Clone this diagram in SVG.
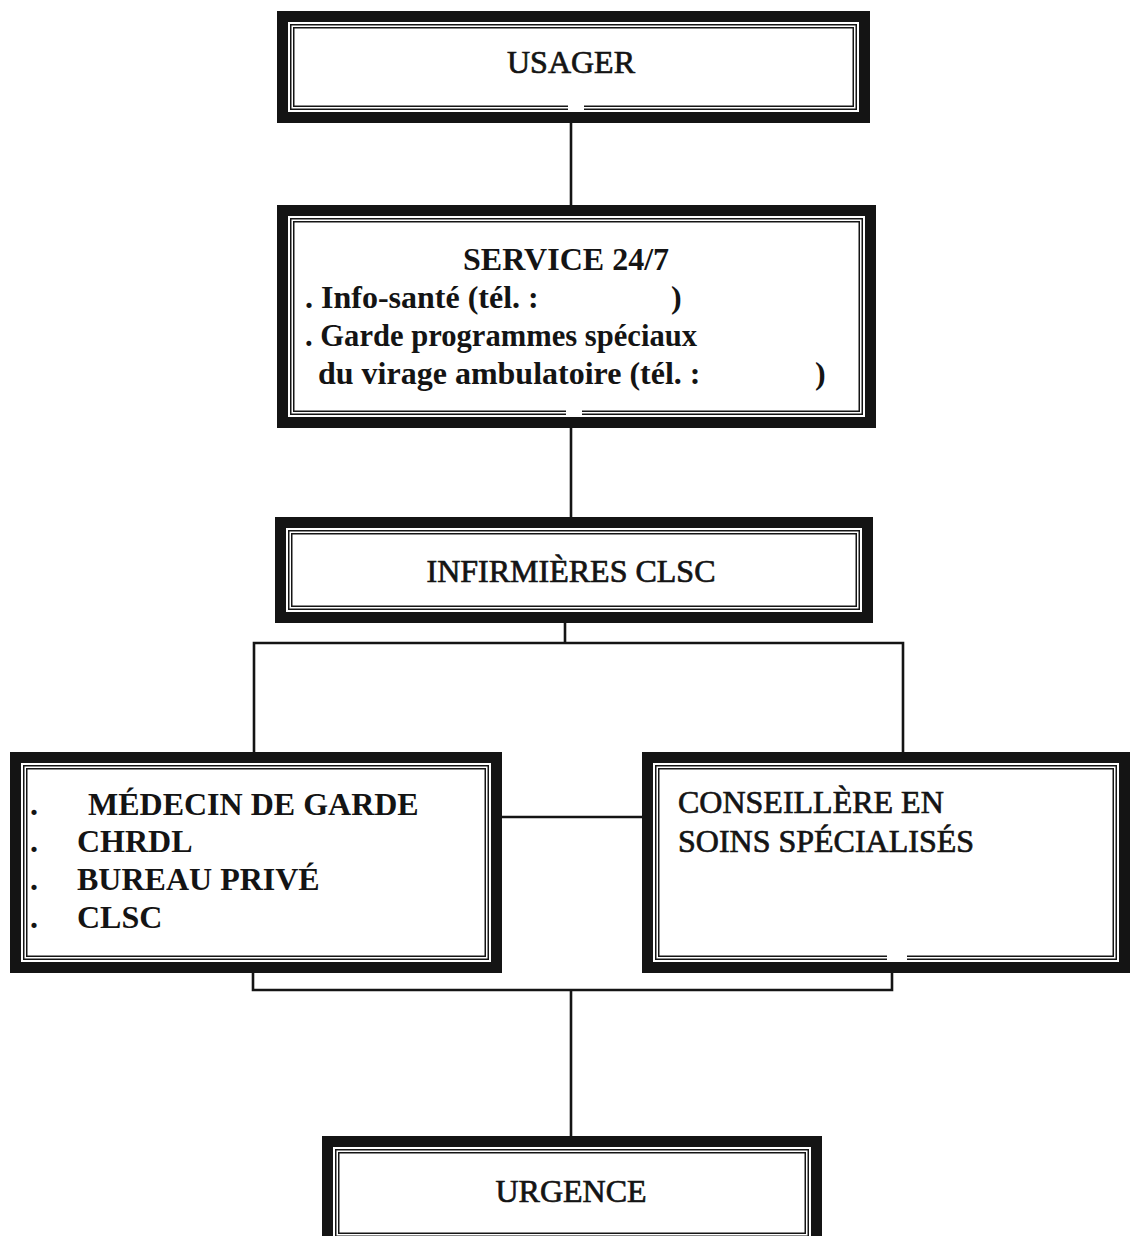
<svg xmlns="http://www.w3.org/2000/svg" width="1132" height="1236" viewBox="0 0 1132 1236">
  <style>
    .band { fill: #fff; stroke: #141414; stroke-width: 11; }
    .line { fill: none; stroke: #141414; stroke-width: 1.5; }
    .gap { fill: #fff; stroke: none; }
    .conn { fill: none; stroke: #141414; stroke-width: 2.6; stroke-linecap: square; }
    .t { font-family: "Liberation Serif", "Times New Roman", serif; font-size: 32px; fill: #141414; }
    .m { stroke: #141414; stroke-width: 0.7; }
    .b { font-weight: bold; }
  </style>
  <rect x="0" y="0" width="1132" height="1236" fill="#fff"/>

  <g id="connectors">
    <path class="conn" d="M571 123 V205"/>
    <path class="conn" d="M571 428 V517"/>
    <path class="conn" d="M565 606 V643 M254 643 H903 M254 643 V752 M903 643 V752"/>
    <path class="conn" d="M502 817 H642"/>
    <path class="conn" d="M253 956 V990 H892 V973 M571 990 V1136"/>
  </g>

  <g id="usager">
    <rect class="band" x="282.5" y="16.5" width="582" height="101"/>
    <rect class="line" x="290.75" y="24.75" width="565.5" height="84.5"/>
    <rect class="line" x="293.75" y="27.75" width="559.5" height="78.5"/>
    <rect class="gap" x="568" y="104" width="16" height="7"/>
    <text class="t m" x="571" y="73" text-anchor="middle">USAGER</text>
  </g>

  <g id="service">
    <rect class="band" x="282.5" y="210.5" width="588" height="212"/>
    <rect class="line" x="290.75" y="218.75" width="571.5" height="195.5"/>
    <rect class="line" x="293.75" y="221.75" width="565.5" height="189.5"/>
    <rect class="gap" x="566" y="409" width="16" height="7"/>
    <text class="t b" x="566" y="270" text-anchor="middle">SERVICE 24/7</text>
    <text class="t b" x="305" y="308">. Info-santé (tél. :</text>
    <text class="t b" x="671" y="308">)</text>
    <text class="t b" x="305" y="346" textLength="392" lengthAdjust="spacingAndGlyphs">. Garde programmes spéciaux</text>
    <text class="t b" x="318" y="384">du virage ambulatoire (tél. :</text>
    <text class="t b" x="815" y="384">)</text>
  </g>

  <g id="infirmieres">
    <rect class="band" x="280.5" y="522.5" width="587" height="95"/>
    <rect class="line" x="288.75" y="530.75" width="570.5" height="78.5"/>
    <rect class="line" x="291.75" y="533.75" width="564.5" height="72.5"/>
    <text class="t m" x="571" y="582" text-anchor="middle">INFIRMIÈRES CLSC</text>
  </g>

  <g id="medecin">
    <rect class="band" x="15.5" y="757.5" width="481" height="210"/>
    <rect class="line" x="23.75" y="765.75" width="464.5" height="193.5"/>
    <rect class="line" x="26.75" y="768.75" width="458.5" height="187.5"/>
    <text class="t b" y="815"><tspan x="30">.</tspan><tspan x="88">MÉDECIN DE GARDE</tspan></text>
    <text class="t b" y="852"><tspan x="30">.</tspan><tspan x="77">CHRDL</tspan></text>
    <text class="t b" y="890"><tspan x="30">.</tspan><tspan x="77">BUREAU PRIVÉ</tspan></text>
    <text class="t b" y="928"><tspan x="30">.</tspan><tspan x="77">CLSC</tspan></text>
  </g>

  <g id="conseillere">
    <rect class="band" x="647.5" y="757.5" width="477" height="210"/>
    <rect class="line" x="655.75" y="765.75" width="460.5" height="193.5"/>
    <rect class="line" x="658.75" y="768.75" width="454.5" height="187.5"/>
    <rect class="gap" x="887" y="954" width="20" height="7"/>
    <text class="t m" x="678" y="813">CONSEILLÈRE EN</text>
    <text class="t m" x="678" y="852">SOINS SPÉCIALISÉS</text>
  </g>

  <g id="urgence">
    <rect class="band" x="327.5" y="1141.5" width="489" height="103"/>
    <rect class="line" x="335.75" y="1149.75" width="472.5" height="86.5"/>
    <rect class="line" x="338.75" y="1152.75" width="466.5" height="80.5"/>
    <text class="t m" x="571" y="1202" text-anchor="middle">URGENCE</text>
  </g>
</svg>
